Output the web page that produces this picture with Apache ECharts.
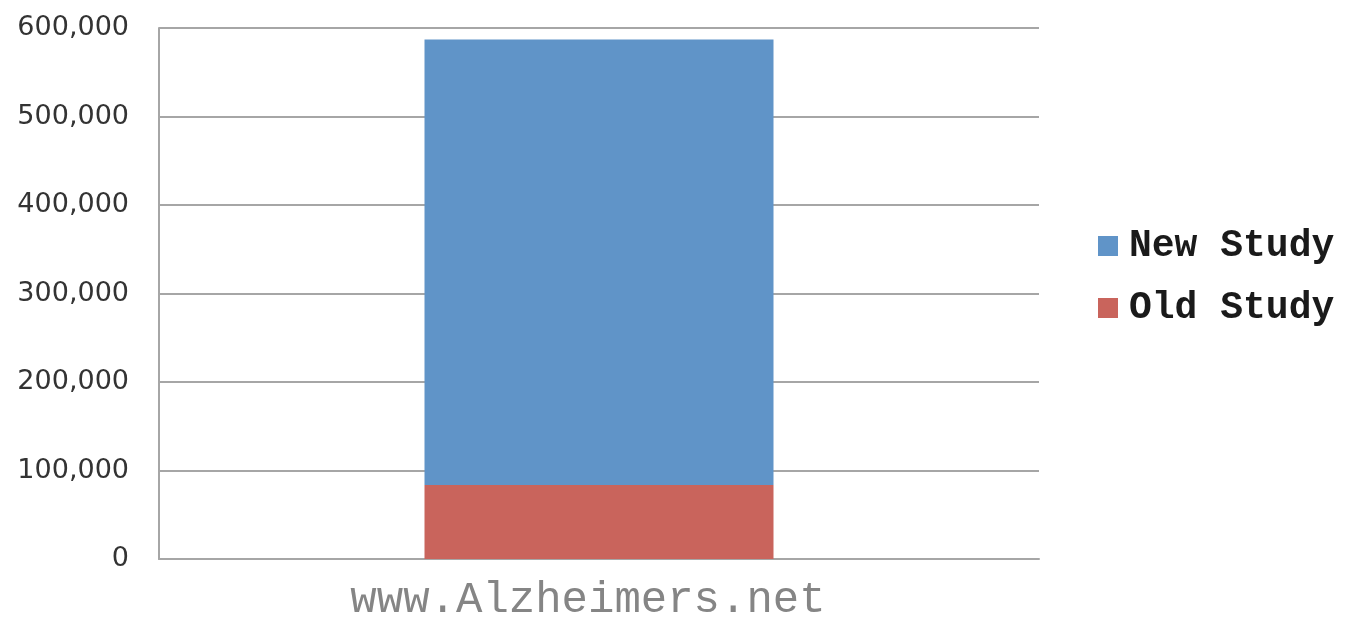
<!DOCTYPE html>
<html><head><meta charset="utf-8">
<script src="https://cdn.jsdelivr.net/npm/echarts@6/dist/echarts.min.js"></script>
<style>html,body{margin:0;padding:0;background:#fff}#c{width:1347px;height:617px}</style>
</head><body><div id="c"></div>
<script>
const categories = ['www.Alzheimers.net'];
const oldStudy = [83494];
const newStudy = [503400];
const yTicks = [0, 100000, 200000, 300000, 400000, 500000, 600000];

const chart = echarts.init(document.getElementById('c'), null, {renderer: 'canvas'});
chart.setOption({
  animation: false,
  backgroundColor: '#ffffff',
  grid: {left: 159, right: 308, top: 28, bottom: 58, containLabel: false, outerBoundsMode: 'none'},
  legend: {
    orient: 'vertical', left: 1093, top: 221,
    itemWidth: 20, itemHeight: 20, itemGap: 22,
    icon: 'rect',
    data: ['New Study', 'Old Study'],
    textStyle: {fontFamily: 'Liberation Mono', fontWeight: 'bold', fontSize: 38, lineHeight: 40, color: '#1a1a1a', padding: [0,0,0,6]}
  },
  xAxis: {
    type: 'category', data: categories,
    axisLine: {show: true, lineStyle: {color: '#a6a6a6', width: 2}},
    axisTick: {show: false},
    axisLabel: {fontFamily: 'Liberation Mono', fontSize: 44, color: '#858585', margin: 19, padding: [0, 22, 0, 0]}
  },
  yAxis: {
    type: 'value', min: yTicks[0], max: yTicks[yTicks.length - 1], interval: 100000,
    axisLine: {show: true, lineStyle: {color: '#a6a6a6', width: 2}},
    axisTick: {show: false},
    splitLine: {show: true, lineStyle: {color: '#a6a6a6', width: 2}},
    axisLabel: {
      fontFamily: 'DejaVu Sans', fontSize: 27, color: '#333333', margin: 30,
      padding: [0, 0, 10, 0],
      formatter: v => v.toLocaleString('en-US')
    }
  },
  series: [
    {name: 'Old Study', type: 'bar', stack: 's', data: oldStudy, barWidth: 349,
     itemStyle: {color: '#c9645c'}},
    {name: 'New Study', type: 'bar', stack: 's', data: newStudy, barWidth: 349,
     itemStyle: {color: '#6094c8'}}
  ]
});
</script></body></html>
